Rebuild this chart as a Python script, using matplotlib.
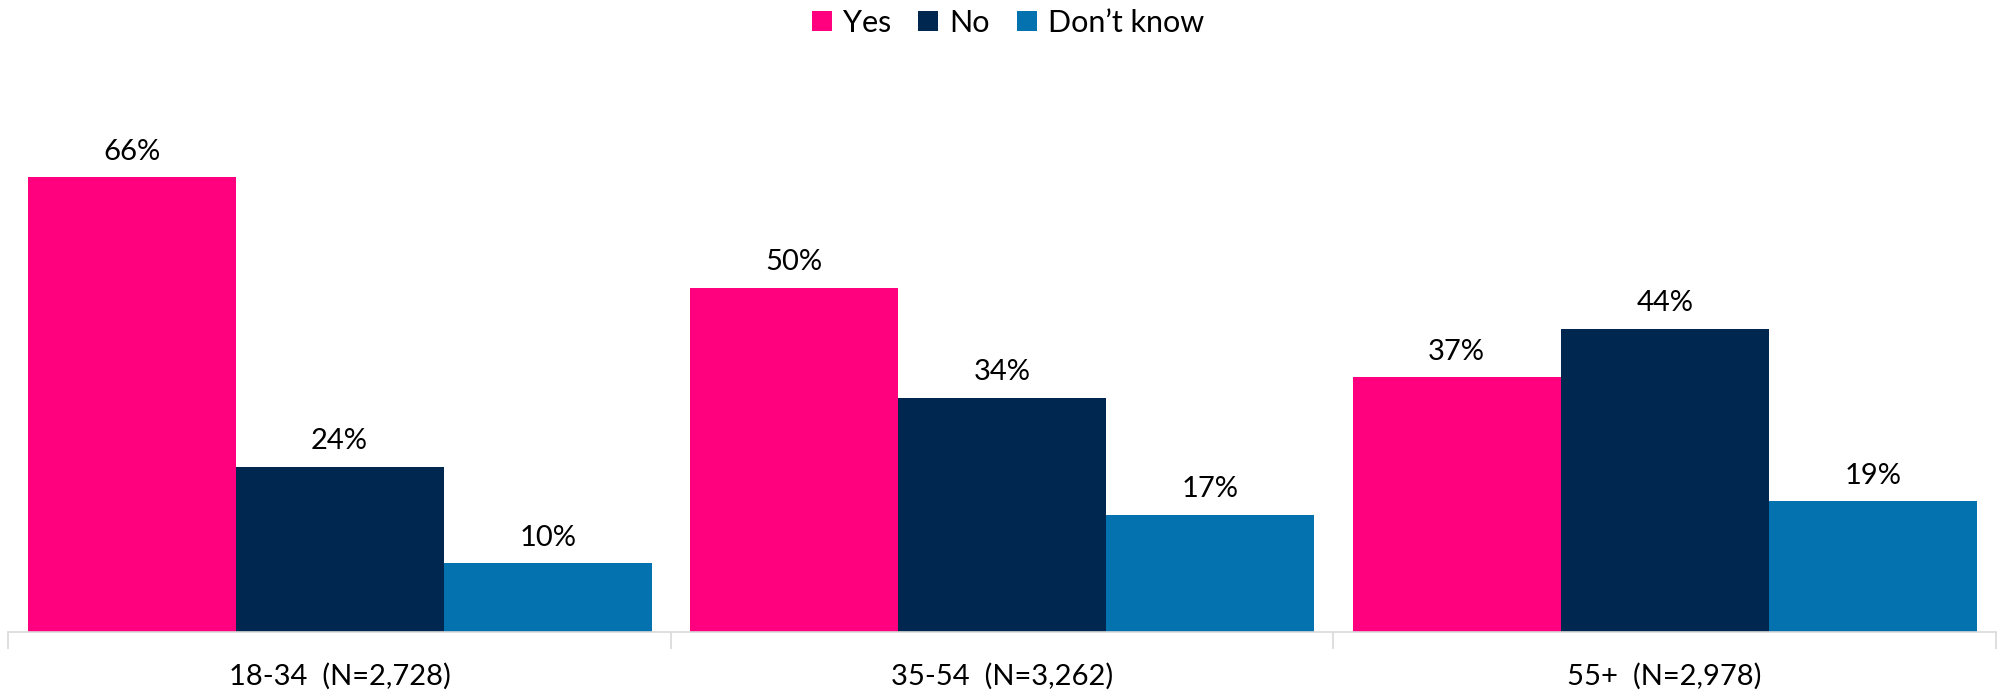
import matplotlib
matplotlib.use("Agg")
import matplotlib.pyplot as plt
import numpy as np
from matplotlib.patches import Patch

plt.rcParams['font.family'] = ['Lato', 'DejaVu Sans']

categories = ["18-34  (N=2,728)", "35-54  (N=3,262)", "55+  (N=2,978)"]
series_names = ["Yes", "No", "Don\u2019t know"]
yes = [66, 50, 37]
no = [24, 34, 44]
dont_know = [10, 17, 19]
colors = ["#FF007F", "#00274F", "#0372AE"]

W, H = 2002, 692
fig = plt.figure(figsize=(W / 100, H / 100), dpi=100)
left, right = 8.3 / W, 1996 / W
bottom = (H - 632) / H
ymax = 80
top_px = 632 - ymax * 6.887
ax = fig.add_axes([left, bottom, right - left, (632 - top_px) / H])

x = np.arange(len(categories))
bw = 0.314
for i, (vals, c) in enumerate(zip([yes, no, dont_know], colors)):
    pos = x + (i - 1) * bw
    bars = ax.bar(pos, vals, width=bw, color=c, edgecolor='none')
    for b, v in zip(bars, vals):
        ax.annotate(f"{v}%", (b.get_x() + b.get_width() / 2, v),
                    xytext=(0, 9), textcoords='offset points',
                    ha='center', va='bottom', fontsize=21, color='black')

ax.set_xlim(-0.5, len(categories) - 0.5)
ax.set_ylim(0, ymax)
for s in ['top', 'right', 'left']:
    ax.spines[s].set_visible(False)
ax.spines['bottom'].set_color('#D9D9D9')
ax.spines['bottom'].set_linewidth(1.2)
ax.set_yticks([])
ax.set_xticks(np.arange(len(categories) + 1) - 0.5, minor=False)
ax.set_xticklabels([])
ax.tick_params(axis='x', which='major', length=12, color='#D9D9D9', width=1.2)
ax.set_xticks(x, minor=True)
ax.set_xticklabels(categories, minor=True, fontsize=21)
ax.tick_params(axis='x', which='minor', length=0, pad=22)

handles = [Patch(facecolor=c, edgecolor='none') for c in colors]
fig.legend(handles, series_names, loc='center', bbox_to_anchor=(1008 / W, 1 - 23 / H),
           ncol=3, frameon=False, fontsize=22, handlelength=0.65, handleheight=0.65,
           handletextpad=0.35, columnspacing=0.9)

fig.savefig("out.png", dpi=100)
